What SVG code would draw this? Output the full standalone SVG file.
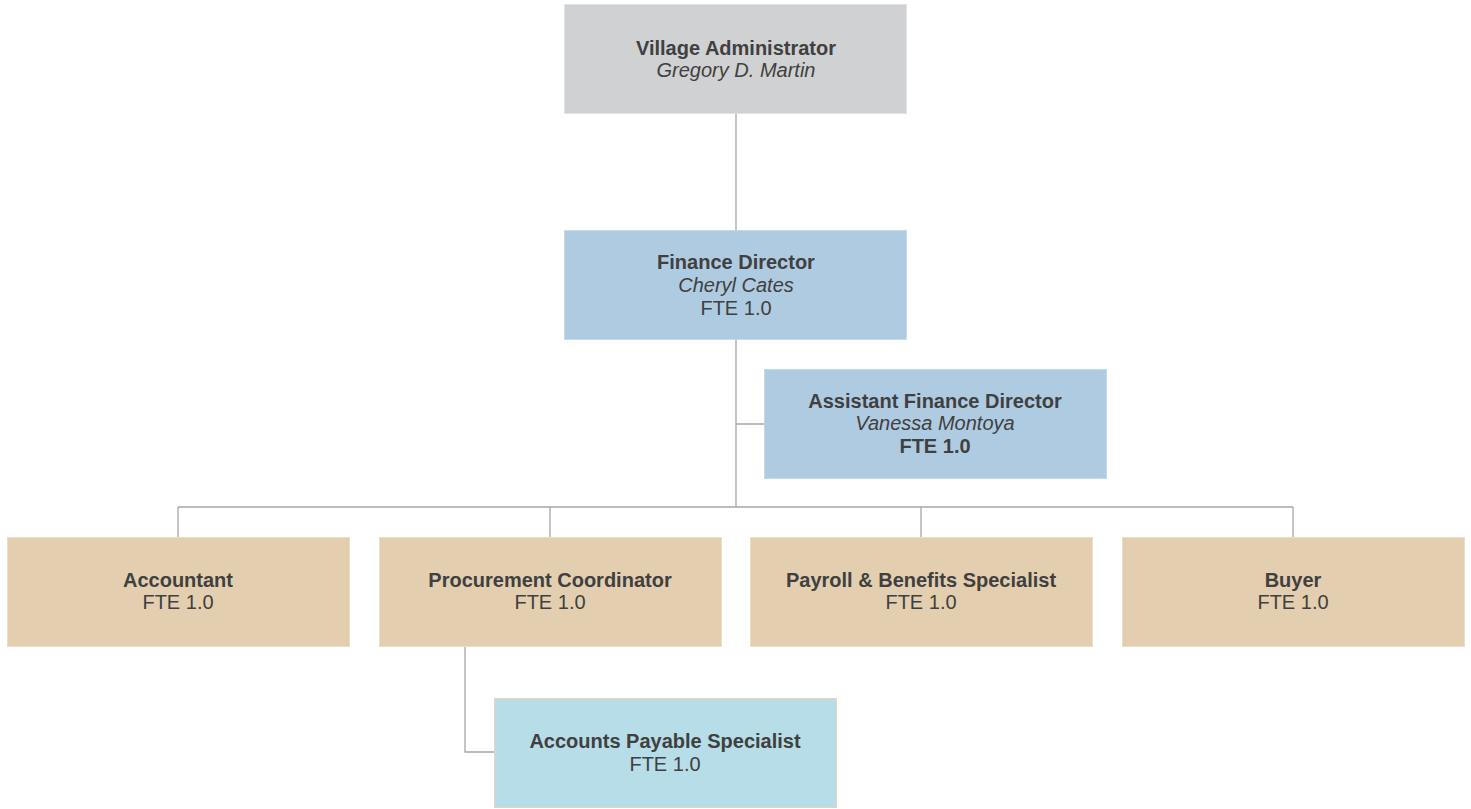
<svg xmlns="http://www.w3.org/2000/svg" width="1471" height="809" viewBox="0 0 1471 809">
<style>
.n{stroke-width:1}
.gray{fill:#D0D1D3;stroke:#E2E3E4}
.blue{fill:#AFCBE1;stroke:#C6DAEA}
.tan{fill:#E3CFAF;stroke:#ECDDC6}
.lb{fill:#B7DDE8;stroke:#E9D5B5}
text{font-family:"Liberation Sans",Arial,sans-serif;font-size:20px;fill:#404040;text-anchor:middle}
.b{font-weight:bold}
.i{font-style:italic}
.c{fill:none;stroke:#A6A6A6;stroke-width:1.3}
</style>
<rect width="1471" height="809" fill="#FFFFFF"/>
<g id="connectors">
<path class="c" d="M736,113V230M736,340V507M736,424H764M178,507H1293M178,507V537M550,507V537M921,507V537M1293,507V537M465,646V752H494"/>
</g>
<g id="village-administrator">
<rect class="n gray" x="564.5" y="4.5" width="342" height="109"/>
<text class="b" x="736" y="55">Village Administrator</text>
<text class="i" x="736" y="77">Gregory D. Martin</text>
</g>
<g id="finance-director">
<rect class="n blue" x="564.5" y="230.5" width="342" height="109"/>
<text class="b" x="736" y="269">Finance Director</text>
<text class="i" x="736" y="292">Cheryl Cates</text>
<text x="736" y="315">FTE 1.0</text>
</g>
<g id="assistant-finance-director">
<rect class="n blue" x="764.5" y="369.5" width="342" height="109"/>
<text class="b" x="935" y="408">Assistant Finance Director</text>
<text class="i" x="935" y="430">Vanessa Montoya</text>
<text class="b" x="935" y="453">FTE 1.0</text>
</g>
<g id="accountant">
<rect class="n tan" x="7.5" y="537.5" width="342" height="109"/>
<text class="b" x="178" y="587">Accountant</text>
<text x="178" y="609">FTE 1.0</text>
</g>
<g id="procurement-coordinator">
<rect class="n tan" x="379.5" y="537.5" width="342" height="109"/>
<text class="b" x="550" y="587">Procurement Coordinator</text>
<text x="550" y="609">FTE 1.0</text>
</g>
<g id="payroll-benefits-specialist">
<rect class="n tan" x="750.5" y="537.5" width="342" height="109"/>
<text class="b" x="921" y="587">Payroll &amp; Benefits Specialist</text>
<text x="921" y="609">FTE 1.0</text>
</g>
<g id="buyer">
<rect class="n tan" x="1122.5" y="537.5" width="342" height="109"/>
<text class="b" x="1293" y="587">Buyer</text>
<text x="1293" y="609">FTE 1.0</text>
</g>
<g id="accounts-payable-specialist">
<rect class="n lb" x="494.5" y="698.5" width="342" height="109"/>
<text class="b" x="665" y="748">Accounts Payable Specialist</text>
<text x="665" y="771">FTE 1.0</text>
</g>
</svg>
